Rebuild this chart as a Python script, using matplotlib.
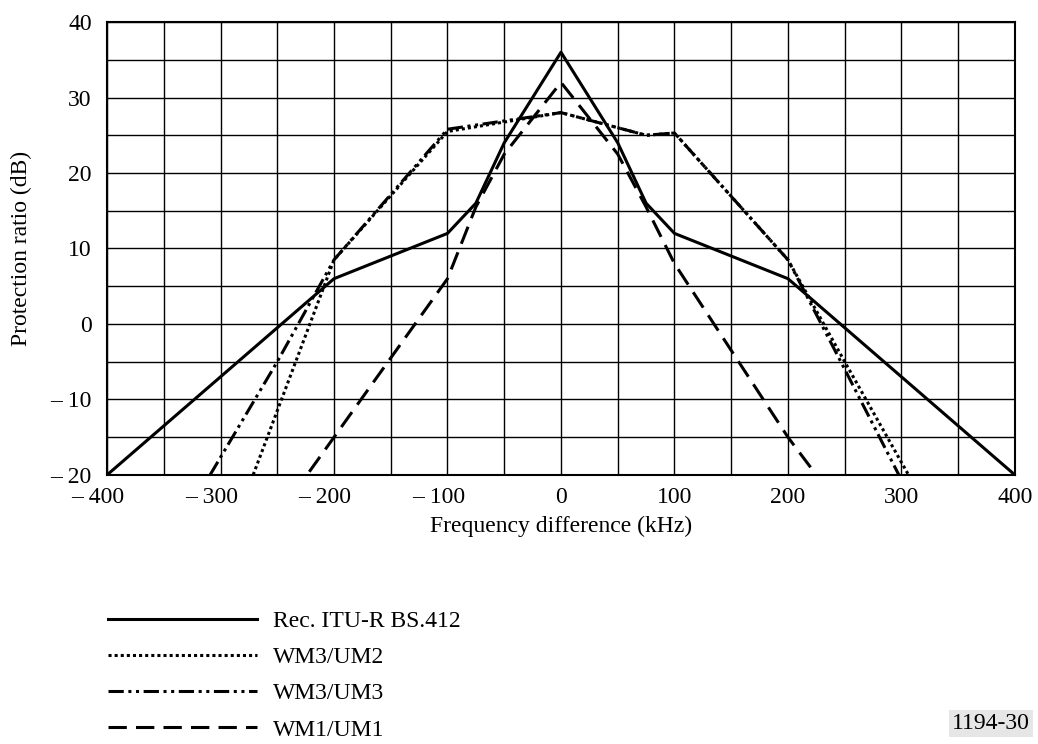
import matplotlib
matplotlib.use("Agg")
import matplotlib.pyplot as plt
from matplotlib.transforms import ScaledTranslation

plt.rcParams['font.family'] = ['Liberation Serif', 'DejaVu Serif']

# data (kHz, dB)
x_bs412 = [-400, -200, -100, -75, -50, 0, 50, 75, 100, 200, 400]
y_bs412 = [-20, 6, 12, 16, 24, 36, 24, 16, 12, 6, -20]

x_wm3um2 = [-275, -200, -100, 0, 75, 100, 200, 250, 325]
y_wm3um2 = [-21.5, 8.5, 25.5, 28, 25, 25.3, 8.5, -5, -25]

x_wm3um3 = [-325, -250, -200, -100, 0, 75, 100, 200, 250, 325]
y_wm3um3 = [-24, -5, 8.5, 25.8, 28, 25, 25.3, 8.5, -6, -28]

x_wm1um1 = [-250, -200, -100, -75, -50, 0, 50, 75, 100, 200, 250]
y_wm1um1 = [-25.5, -15, 6, 15.5, 22.5, 32, 22.5, 15.5, 8, -15, -25]

xticks = [-400, -300, -200, -100, 0, 100, 200, 300, 400]
xtick_labels = ['\u2013 400', '\u2013 300', '\u2013 200', '\u2013 100', '0', '100', '200', '300', '400']
yticks = [-20, -10, 0, 10, 20, 30, 40]
ytick_labels = ['\u2013 20', '\u2013 10', '0', '10', '20', '30', '40']

fig = plt.figure(figsize=(10.38, 7.44), dpi=100)
ax = fig.add_axes([0.1031, 0.3616, 0.8747, 0.6088])

ax.plot(x_bs412, y_bs412, color='black', lw=2.2, ls='-', label='Rec. ITU-R BS.412')
ax.plot(x_wm3um2, y_wm3um2, color='black', lw=2.2, ls=(0, (1, 1)), label='WM3/UM2')
ax.plot(x_wm3um3, y_wm3um3, color='black', lw=2.2, ls=(0, (5, 1.5, 1, 1.5, 1, 1.5)), label='WM3/UM3')
ax.plot(x_wm1um1, y_wm1um1, color='black', lw=2.2, ls=(0, (6, 3)), label='WM1/UM1')

ax.set_xlim(-400, 400)
ax.set_ylim(-20, 40)
ax.set_xticks(xticks)
ax.set_xticklabels(xtick_labels)
ax.set_yticks(yticks)
ax.set_yticklabels(ytick_labels)
ax.set_xticks(range(-350, 400, 100), minor=True)
ax.set_yticks(range(-15, 40, 10), minor=True)
ax.tick_params(which='both', length=0, labelsize=17)
ax.tick_params(axis='x', pad=9)
ax.tick_params(axis='y', pad=11)
ax.grid(which='both', color='black', lw=1)
for s in ax.spines.values():
    s.set_linewidth(1.5)

# centre the digits (not the dash) of negative labels on their ticks
shift = ScaledTranslation(-0.09, 0, fig.dpi_scale_trans)
for lab in ax.get_xticklabels():
    if lab.get_text().startswith('\u2013'):
        lab.set_transform(lab.get_transform() + shift)

ax.set_xlabel('Frequency difference (kHz)', fontsize=17, labelpad=5)
ax.set_ylabel('Protection ratio (dB)', fontsize=17, labelpad=13)

fig.legend(loc='upper left', bbox_to_anchor=(0.095, 0.192), frameon=False,
           fontsize=17, handlelength=6.3, labelspacing=0.62, handletextpad=0.68,
           borderaxespad=0)

fig.text(0.992, 0.028, '1194-30', fontsize=17, ha='right', va='center',
         bbox=dict(facecolor='#e6e6e6', edgecolor='none', pad=2))

fig.savefig('out.png', dpi=100)
